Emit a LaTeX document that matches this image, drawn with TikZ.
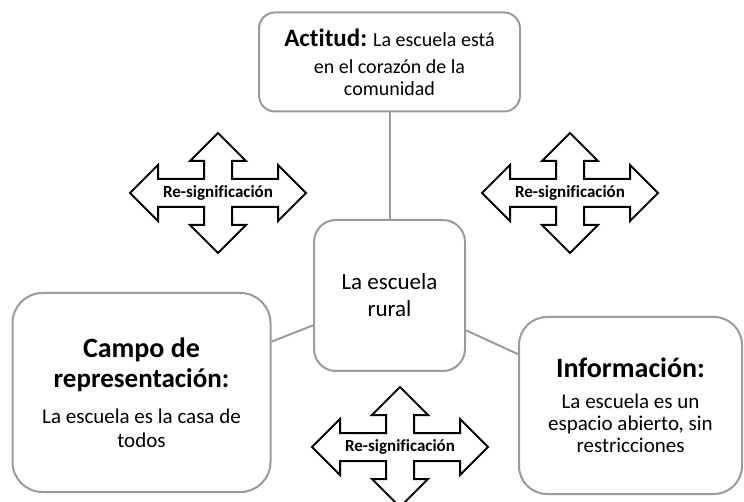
\documentclass[tikz,border=0pt]{standalone}
\usepackage{fontspec}
\setmainfont[Ligatures=NoCommon]{Carlito}
\definecolor{boxgray}{RGB}{155,155,155}
\tikzset{
  box/.style={draw=boxgray, line width=2pt, fill=white, inner sep=0pt, align=center},
  link/.style={draw=boxgray, line width=2pt},
  cross/.pic={
    \draw[line width=2pt, fill=white, line join=miter]
      (-88,0) -- (-60,-28) -- (-60,-14) -- (-14,-14) -- (-14,-32) -- (-28,-32) --
      (0,-60) -- (28,-32) -- (14,-32) -- (14,-14) -- (60,-14) -- (60,-28) --
      (88,0) -- (60,28) -- (60,14) -- (14,14) -- (14,32) -- (28,32) --
      (0,60) -- (-28,32) -- (-14,32) -- (-14,14) -- (-60,14) -- (-60,28) -- cycle;
    \node[font=\fontsize{17}{19}\selectfont\bfseries, inner sep=0pt] (-lbl) at (0,0) {Re-significación};
  }
}
\begin{document}
\begin{tikzpicture}[x=1pt,y=-1pt]
\useasboundingbox (0,0) rectangle (744,502);
\begin{scope}
\clip (0,0) rectangle (744,502);
\node[box, minimum width=261pt, minimum height=99pt, rounded corners=16pt,
      font=\fontsize{20}{22}\selectfont] (top) at (389.5,62)
  {{\fontsize{25}{26}\selectfont\bfseries Actitud:} La escuela está\\[5pt] en el corazón de la\\ comunidad};
\node[box, minimum width=151pt, minimum height=151pt, rounded corners=22pt,
      font=\fontsize{23}{27}\selectfont] (mid) at (389.5,295.5)
  {La escuela\\ rural};
\node[box, minimum width=258pt, minimum height=199pt, rounded corners=30pt,
      font=\fontsize{21}{24}\selectfont] (left) at (141.5,392.5)
  {{\fontsize{28}{29}\selectfont\bfseries Campo de}\\[6pt] {\fontsize{27}{29}\selectfont\bfseries representación:}\\[12pt] La escuela es la casa de\\ todos};
\node[box, minimum width=223pt, minimum height=177pt, rounded corners=28pt,
      font=\fontsize{21}{22}\selectfont] (right) at (630.5,405.5)
  {{\fontsize{28}{32}\selectfont\bfseries Información:}\\[9pt] La escuela es un\\ espacio abierto, sin\\ restricciones};
\draw[link] (top) -- (mid);
\draw[link] (left) -- (mid);
\draw[link] (right) -- (mid);
\pic (c1) at (218,193) {cross};
\pic (c2) at (570,193) {cross};
\pic (c3) at (400,447) {cross};
\end{scope}
\end{tikzpicture}
\end{document}
